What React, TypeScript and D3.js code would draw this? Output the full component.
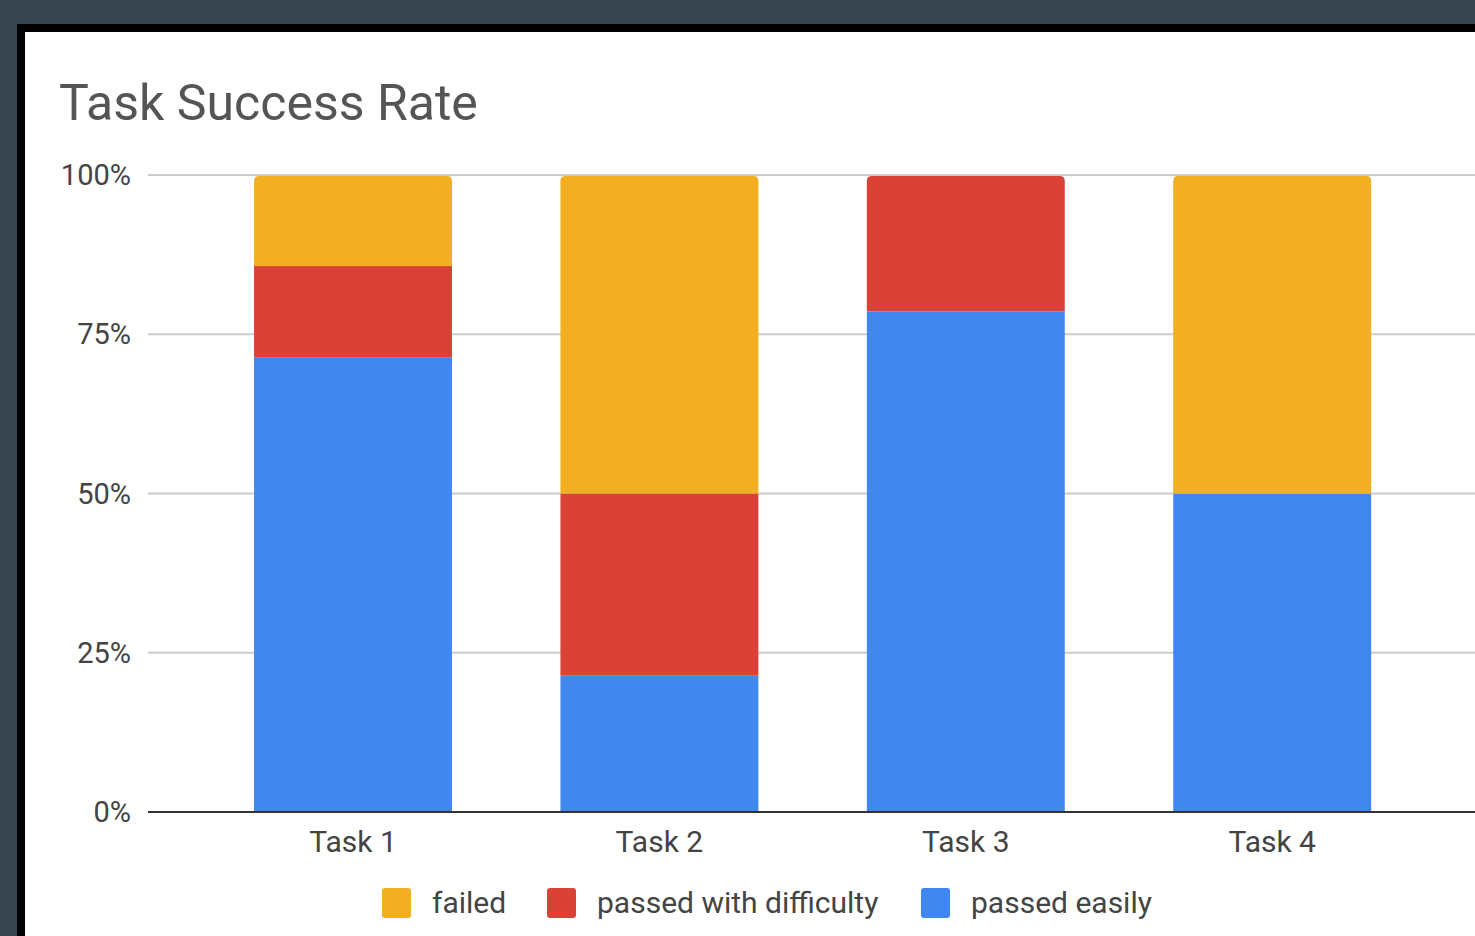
import React from "react";
import * as d3 from "d3";

const categories = ["Task 1", "Task 2", "Task 3", "Task 4"];
const seriesNames = ["passed easily", "passed with difficulty", "failed"];
const passedEasily = [0.714, 0.214, 0.786, 0.5];
const passedWithDifficulty = [0.143, 0.286, 0.214, 0];
const failed = [0.143, 0.5, 0, 0.5];
const yTicks = [0, 0.25, 0.5, 0.75, 1];
const legendOrder = ["failed", "passed with difficulty", "passed easily"];

const W = 1475;
const H = 936;
const colors: Record<string, string> = {
  "passed easily": "#4088EE",
  "passed with difficulty": "#DA4237",
  failed: "#F2AF22",
};

export default function App() {
  const rows = categories.map((c, i) => ({
    cat: c,
    "passed easily": passedEasily[i],
    "passed with difficulty": passedWithDifficulty[i],
    failed: failed[i],
  }));
  const stack = d3.stack<any>().keys(seriesNames)(rows);

  const x = d3
    .scaleBand<string>()
    .domain(categories)
    .range([199.8, 1425.4])
    .paddingInner(0.354)
    .paddingOuter(0.177);
  const y = d3.scaleLinear().domain([0, 1]).range([812, 175]);
  const fmt = d3.format(".0%");
  const font = "Roboto, 'Noto Sans', sans-serif";

  const topKey = (i: number) => {
    let k = "";
    seriesNames.forEach((s) => {
      const v = (rows[i] as any)[s];
      if (v > 0) k = s;
    });
    return k;
  };

  const roundedTop = (x0: number, y0: number, w: number, h: number, r: number) =>
    `M${x0},${y0 + h}V${y0 + r}Q${x0},${y0} ${x0 + r},${y0}H${x0 + w - r}Q${x0 + w},${y0} ${x0 + w},${y0 + r}V${y0 + h}Z`;

  const legendItems = [
    { name: legendOrder[0], sx: 382, tx: 432 },
    { name: legendOrder[1], sx: 547, tx: 597 },
    { name: legendOrder[2], sx: 921, tx: 971 },
  ];

  return (
    <div style={{ position: "absolute", left: 0, top: 0 }}>
      <svg width={W} height={H} style={{ display: "block" }}>
        <rect x={0} y={0} width={W} height={H} fill="#36454F" />
        <rect x={17} y={24} width={W - 17} height={H - 24} fill="#000" />
        <rect x={25} y={32} width={W - 25} height={H - 32} fill="#fff" />
        <text x={59} y={120} fontFamily={font} fontSize={50} fill="#555">
          Task Success Rate
        </text>
        {yTicks.map((t) => (
          <g key={t}>
            {t > 0 && (
              <line x1={148} x2={W} y1={y(t)} y2={y(t)} stroke="#CCCCCC" strokeWidth={2} />
            )}
            <text
              x={131}
              y={y(t) + 10}
              textAnchor="end"
              fontFamily={font}
              fontSize={29}
              fill="#444"
            >
              {fmt(t)}
            </text>
          </g>
        ))}
        {stack.map((layer) =>
          layer.map((d, i) => {
            const key = layer.key;
            const v = d[1] - d[0];
            if (v <= 0) return null;
            const bx = x(categories[i])!;
            const bw = x.bandwidth();
            const y0 = y(d[1]);
            const h = y(d[0]) - y(d[1]);
            if (topKey(i) === key) {
              return (
                <path
                  key={key + i}
                  d={roundedTop(bx, y0 + 1, bw, h - 1, 5)}
                  fill={colors[key]}
                />
              );
            }
            return (
              <rect key={key + i} x={bx} y={y0} width={bw} height={h} fill={colors[key]} />
            );
          })
        )}
        <line x1={148} x2={W} y1={y(0)} y2={y(0)} stroke="#333" strokeWidth={2} />
        {categories.map((c) => (
          <text
            key={c}
            x={x(c)! + x.bandwidth() / 2}
            y={852}
            textAnchor="middle"
            fontFamily={font}
            fontSize={30}
            fill="#444"
          >
            {c}
          </text>
        ))}
        {legendItems.map((l) => (
          <g key={l.name}>
            <rect x={l.sx} y={888} width={29} height={30} rx={3} fill={colors[l.name]} />
            <text x={l.tx} y={913} fontFamily={font} fontSize={30} fill="#444">
              {l.name}
            </text>
          </g>
        ))}
      </svg>
    </div>
  );
}
